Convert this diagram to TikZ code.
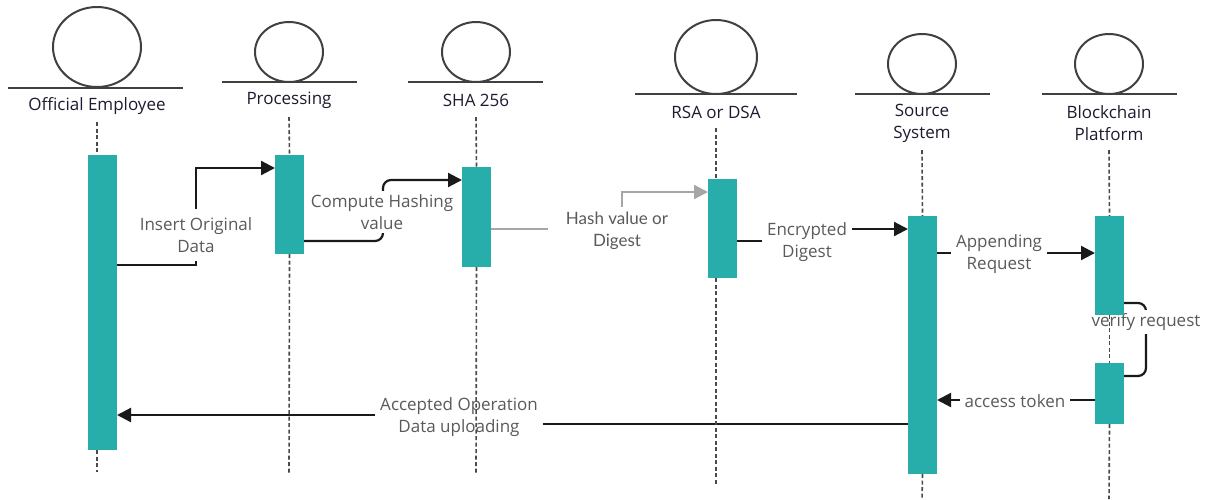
\documentclass[tikz,border=0pt]{standalone}
\usepackage{fontspec}
\setmainfont{Open Sans}
\newfontfamily\latofont{Lato}
\usetikzlibrary{arrows.meta,shapes.geometric}

\definecolor{barteal}{HTML}{27ADAA}
\definecolor{headgray}{HTML}{404040}
\definecolor{actorink}{HTML}{1C1C30}
\definecolor{msgink}{HTML}{5A5A5A}
\definecolor{wire}{HTML}{1A1A1A}
\definecolor{softwire}{HTML}{A6A6A6}
\definecolor{lifegray}{HTML}{4A4A4A}

\tikzset{
  actorhead/.style={ellipse, draw=headgray, line width=2pt, inner sep=0pt},
  ground/.style={draw=headgray, line width=2pt},
  actorname/.style={text=actorink, align=center, inner sep=0pt,
    font=\fontsize{17}{22}\selectfont},
  lifeline/.style={draw=lifegray, line width=1.6pt, dash pattern=on 4pt off 2.5pt},
  actbar/.style={fill=barteal, draw=none, anchor=north west, outer sep=0pt,
    minimum width=29pt, inner sep=0pt},
  msg/.style={draw=wire, line width=2.2pt},
  softmsg/.style={draw=softwire, line width=2.2pt},
  tip/.style={-{Triangle[length=14pt,width=14pt]}},
  msglabel/.style={fill=white, text=msgink, align=center, inner xsep=5pt,
    inner ysep=3pt, font=\fontsize{17}{22}\selectfont},
}

\begin{document}
\begin{tikzpicture}[x=1pt, y=-1pt]
\useasboundingbox (0,0) rectangle (1214,499);

% actor heads and ground lines
\node[actorhead, minimum width=88pt, minimum height=80pt] (h1) at (97,47) {};
\node[actorhead, minimum width=68pt, minimum height=60pt] (h2) at (289,52) {};
\node[actorhead, minimum width=68pt, minimum height=60pt] (h3) at (476,52) {};
\node[actorhead, minimum width=82pt, minimum height=74pt] (h4) at (716,57) {};
\node[actorhead, minimum width=68pt, minimum height=60pt] (h5) at (922,64) {};
\node[actorhead, minimum width=68pt, minimum height=60pt] (h6) at (1109,64) {};
\draw[ground] (8,88) -- (183,88);
\draw[ground] (222,82) -- (357,82);
\draw[ground] (408,82) -- (543,82);
\draw[ground] (635,94) -- (797,94);
\draw[ground] (855,94) -- (990,94);
\draw[ground] (1042,94) -- (1177,94);

% actor names
\node[actorname] (a1) at (97,106) {Official Employee};
\node[actorname] (a2) at (289,100) {Processing};
\node[actorname] (a3) at (476,100) {SHA 256};
\node[actorname] (a4) at (716,112) {RSA or DSA};
\node[actorname] (a5) at (922,123) {Source\\System};
\node[actorname] (a6) at (1109,123) {Blockchain\\Platform};

% activation bars (named for the messages)
\path
  (88,155)   node[actbar, minimum height=295pt] (b1) {}
  (275,155)  node[actbar, minimum height=99pt]  (b2) {}
  (462,167)  node[actbar, minimum height=100pt] (b3) {}
  (708,179)  node[actbar, minimum height=99pt]  (b4) {}
  (908,216)  node[actbar, minimum height=258pt] (b5) {}
  (1095,216) node[actbar, minimum height=99pt]  (b6) {}
  (1095,363) node[actbar, minimum height=61pt]  (b7) {};

% messages
\draw[msg, tip] (b1.east |- 0,265) -- (196,265) -- (196,168) -- (b2.west |- 0,168);
\draw[msg, tip, rounded corners=8pt] (b2.east |- 0,241) -- (383,241) -- (383,180) -- (b3.west |- 0,180);
\draw[softmsg, tip] (b3.east |- 0,229) -- (622,229) -- (622,192) -- (b4.west |- 0,192);
\draw[msg, tip] (b4.east |- 0,241) -- (808,241) -- (808,229) -- (b5.west |- 0,229);
\draw[msg, tip] (b5.east |- 0,253) -- (b6.west |- 0,253);
\draw[msg, rounded corners=8pt] (b6.east |- 0,303) -- (1146,303) -- (1146,376) -- (b7.east |- 0,376);
\draw[msg, tip] (b7.west |- 0,400) -- (b5.east |- 0,400);
\draw[msg, tip] (b5.west |- 0,424) -- (460,424) -- (460,415) -- (b1.east |- 0,415);

% message labels
\node[msglabel, inner ysep=8pt] (m1) at (196,235) {Insert Original\\Data};
\node[msglabel] (m2) at (382,212) {Compute Hashing\\value};
\node[msglabel, inner xsep=18pt, inner ysep=5pt, font=\latofont\fontsize{17}{22}\selectfont] (m3) at (617,231) {Hash value or\\Digest};
\node[msglabel] (m4) at (807,242) {Encrypted\\Digest};
\node[msglabel] (m5) at (999,254) {Appending\\Request};
\node[msglabel] (m6) at (1146,322) {verify request};
\node[msglabel] (m7) at (1015,401) {access token};
\node[msglabel] (m8) at (459,417) {Accepted Operation\\Data uploading};

% lifelines
\draw[lifeline] (97,122) -- (b1.north -| 97,0);
\draw[lifeline] (b1.south -| 97,0) -- (97,472);
\draw[lifeline] (289,117) -- (b2.north);
\draw[lifeline] (b2.south) -- (289,473);
\draw[lifeline] (476,117) -- (b3.north);
\draw[lifeline] (b3.south) -- (476,473);
\draw[lifeline] (716,128) -- (b4.north -| 716,0);
\draw[lifeline] (b4.south -| 716,0) -- (716,485);
\draw[lifeline] (922,150) -- (b5.north);
\draw[lifeline] (b5.south) -- (922,499);
\draw[lifeline] (1109,150) -- (b6.north);
\draw[lifeline] (b6.south) -- (b7.north);
\draw[lifeline] (b7.south) -- (1109,499);

% bars drawn over the lifelines
\path
  (88,155)   node[actbar, minimum height=295pt] {}
  (275,155)  node[actbar, minimum height=99pt]  {}
  (462,167)  node[actbar, minimum height=100pt] {}
  (708,179)  node[actbar, minimum height=99pt]  {}
  (908,216)  node[actbar, minimum height=258pt] {}
  (1095,216) node[actbar, minimum height=99pt]  {}
  (1095,363) node[actbar, minimum height=61pt]  {};
\end{tikzpicture}
\end{document}
